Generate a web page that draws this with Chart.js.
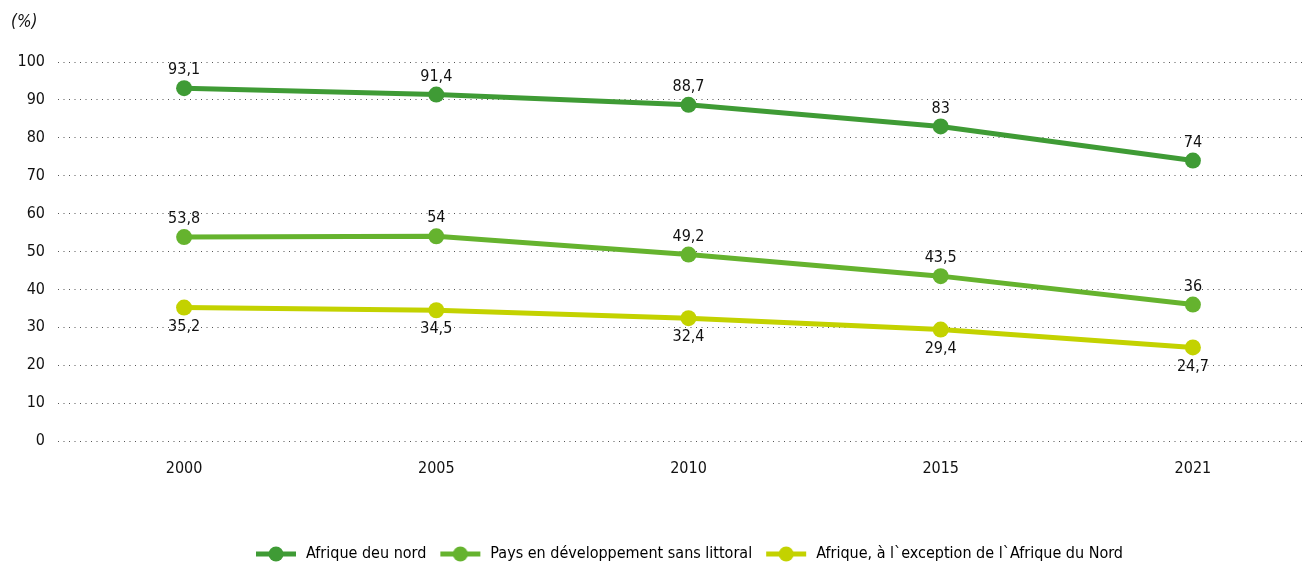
<!DOCTYPE html>
<html>
<head>
<meta charset="utf-8">
<script src="https://cdn.jsdelivr.net/npm/chart.js@4"></script>
<style>
  html, body { margin: 0; padding: 0; background: #fff; overflow: hidden; }
  #wrap { width: 1327px; height: 562px; position: relative; }
</style>
</head>
<body>
<div id="wrap"><canvas id="graph"></canvas></div>
<script>
// donnees
var years = ["2000", "2005", "2010", "2015", "2021"];
var afriqueNord = [93.1, 91.4, 88.7, 83, 74];
var paysSansLittoral = [53.8, 54, 49.2, 43.5, 36];
var afriqueHorsNord = [35.2, 34.5, 32.4, 29.4, 24.7];
var seriesNames = ["Afrique deu nord", "Pays en développement sans littoral", "Afrique, à l`exception de l`Afrique du Nord"];
var seriesColors = ["#3f9b35", "#65b32e", "#c3d200"];
var yTicks = [0, 10, 20, 30, 40, 50, 60, 70, 80, 90, 100];

var FONT = '"Liberation Sans Narrow", "DejaVu Sans Condensed", Arial, sans-serif';
Chart.defaults.font.family = FONT;
Chart.defaults.color = '#111';

// icone de legende : trait + rond
function legendIcon(color) {
  var c = document.createElement('canvas');
  c.width = 44; c.height = 18;
  var g = c.getContext('2d');
  g.strokeStyle = color; g.lineWidth = 5;
  g.beginPath(); g.moveTo(2, 9); g.lineTo(42, 9); g.stroke();
  g.fillStyle = color;
  g.beginPath(); g.arc(22, 9, 7.5, 0, Math.PI * 2); g.fill();
  return c;
}

var valueLabels = {
  id: 'valueLabels',
  afterDatasetsDraw: function(chart) {
    var ctx = chart.ctx;
    ctx.save();
    ctx.font = '16px ' + FONT;
    ctx.fillStyle = '#111';
    ctx.textAlign = 'center';
    ctx.textBaseline = 'middle';
    chart.data.datasets.forEach(function(ds, i) {
      var meta = chart.getDatasetMeta(i);
      meta.data.forEach(function(pt, j) {
        var txt = String(ds.data[j]).replace('.', ',');
        var dy = i === 2 ? 19 : -18;
        ctx.fillText(txt, pt.x, pt.y + dy);
      });
    });
    ctx.restore();
  }
};

var unitTitle = {
  id: 'unitTitle',
  afterDraw: function(chart) {
    var ctx = chart.ctx;
    ctx.save();
    ctx.font = 'italic 17px ' + FONT;
    ctx.fillStyle = '#111';
    ctx.textBaseline = 'middle';
    ctx.fillText('(%)', 11, 23);
    ctx.restore();
  }
};

var allData = [afriqueNord, paysSansLittoral, afriqueHorsNord];

new Chart("graph", {
  type: "line",
  data: {
    labels: years,
    datasets: allData.map(function(d, i) {
      return {
        label: seriesNames[i],
        data: d,
        borderColor: seriesColors[i],
        backgroundColor: seriesColors[i],
        pointBackgroundColor: seriesColors[i],
        borderWidth: 5,
        pointRadius: 8,
        pointHoverRadius: 8,
        pointBorderWidth: 0,
        tension: 0,
        pointStyle: 'circle'
      };
    })
  },
  options: {
    responsive: true,
    maintainAspectRatio: false,
    animation: false,
    layout: { padding: { top: 62, bottom: -10, left: 0, right: 0 } },
    scales: {
      x: {
        offset: true,
        grid: { display: false },
        border: { display: false },
        ticks: { padding: 10, font: { size: 16 }, color: '#111' },
        afterFit: function(s) { s.height = 93; }
      },
      y: {
        min: 0, max: 100,
        afterFit: function(s) { s.width = 58; },
        afterBuildTicks: function(s) { s.ticks = yTicks.map(function(v) { return { value: v }; }); },
        grid: { color: '#555', lineWidth: 1, drawTicks: false },
        border: { display: false, dash: [1, 4.5] },
        ticks: { padding: 13, font: { size: 16 }, color: '#111' }
      }
    },
    plugins: {
      legend: {
        position: 'bottom',
        fullSize: false,
        labels: {
          usePointStyle: true,
          pointStyleWidth: 44,
          boxHeight: 18,
          padding: 12,
          font: { size: 16 },
          color: '#111',
          generateLabels: function(chart) {
            return chart.data.datasets.map(function(ds, i) {
              return {
                text: ds.label,
                pointStyle: legendIcon(seriesColors[i]),
                fillStyle: seriesColors[i],
                strokeStyle: seriesColors[i],
                lineWidth: 0,
                datasetIndex: i
              };
            });
          }
        }
      },
      tooltip: { enabled: false }
    }
  },
  plugins: [valueLabels, unitTitle]
});
</script>
</body>
</html>
